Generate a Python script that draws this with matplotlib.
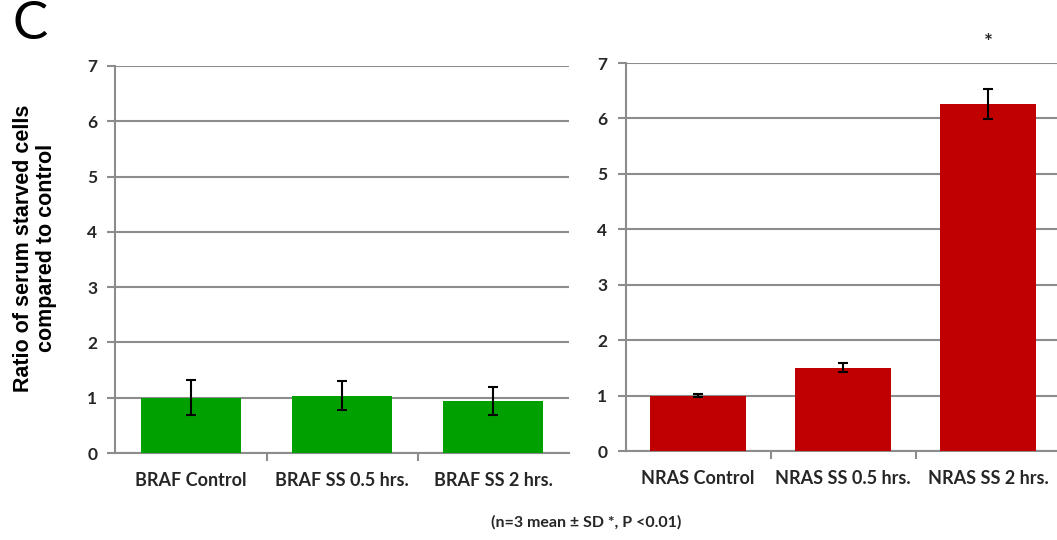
import matplotlib
matplotlib.use("Agg")
import matplotlib.pyplot as plt

# Data
braf_labels = ["BRAF Control", "BRAF SS 0.5 hrs.", "BRAF SS 2 hrs."]
braf_means = [1.00, 1.04, 0.94]
braf_sd = [0.32, 0.27, 0.26]

nras_labels = ["NRAS Control", "NRAS SS 0.5 hrs.", "NRAS SS 2 hrs."]
nras_means = [1.00, 1.50, 6.26]
nras_sd = [0.03, 0.08, 0.27]

y_ticks = [0, 1, 2, 3, 4, 5, 6, 7]
significant = [False, False, True]

GREEN = "#00A000"
RED = "#C00000"
GRID = "#8C8C8C"
TEXT = "#262626"

plt.rcParams["font.family"] = ["Lato", "DejaVu Sans"]

fig = plt.figure(figsize=(10.57, 5.40), dpi=100)
ax_l = fig.add_axes([0.1092, 0.1611, 0.4290, 0.7167])
ax_r = fig.add_axes([0.5918, 0.1648, 0.4116, 0.7185])


def style_panel(ax, labels, means, sd, color):
    x = list(range(len(labels)))
    ax.bar(x, means, width=0.66, color=color, zorder=3)
    ax.errorbar(x, means, yerr=sd, fmt="none", ecolor="black",
                elinewidth=1.5, capsize=3.8, capthick=1.5, zorder=4)
    ax.set_xlim(-0.5, len(labels) - 0.5)
    ax.set_ylim(0, 7)
    ax.set_yticks(y_ticks)
    ax.yaxis.grid(True, color=GRID, linewidth=1.5, zorder=0)
    ax.set_axisbelow(True)
    for side in ("top", "right"):
        ax.spines[side].set_visible(False)
    for side in ("left", "bottom"):
        ax.spines[side].set_color(GRID)
        ax.spines[side].set_linewidth(1.5)
    ax.tick_params(axis="y", length=6, width=1.5, color=GRID, pad=7,
                   labelsize=12.5, labelcolor=TEXT)
    for t in ax.get_yticklabels():
        t.set_fontweight("bold")
    # category ticks sit between the bars
    ax.set_xticks([i + 0.5 for i in x[:-1]])
    ax.set_xticklabels([])
    ax.tick_params(axis="x", length=6, width=1.5, color=GRID)
    for i, lab in enumerate(labels):
        ax.annotate(lab, xy=(i, 0), xycoords="data", xytext=(0, -19.5),
                    textcoords="offset points", ha="center", va="center",
                    fontsize=13, fontweight="bold", color=TEXT,
                    annotation_clip=False)
    return x


style_panel(ax_l, braf_labels, braf_means, braf_sd, GREEN)
xr = style_panel(ax_r, nras_labels, nras_means, nras_sd, RED)

for i, sig in zip(xr, significant):
    if sig:
        ax_r.text(i, 7.37, "*", ha="center", va="center", fontsize=15,
                  fontweight="bold", color=TEXT, clip_on=False)

fig.text(0.033, 0.541, "Ratio of serum starved cells\ncompared to control",
         rotation=90, ha="center", va="center", fontsize=15.5,
         fontweight="bold", family="Liberation Sans", color="black",
         linespacing=1.1)

fig.text(0.012, 0.955, "C", ha="left", va="center", fontsize=38, color="black")

fig.text(0.555, 0.033, "(n=3 mean \u00b1 SD *, P <0.01)", ha="center",
         va="center", fontsize=11.5, fontweight="bold", color=TEXT)

fig.savefig("out.png", dpi=100)
